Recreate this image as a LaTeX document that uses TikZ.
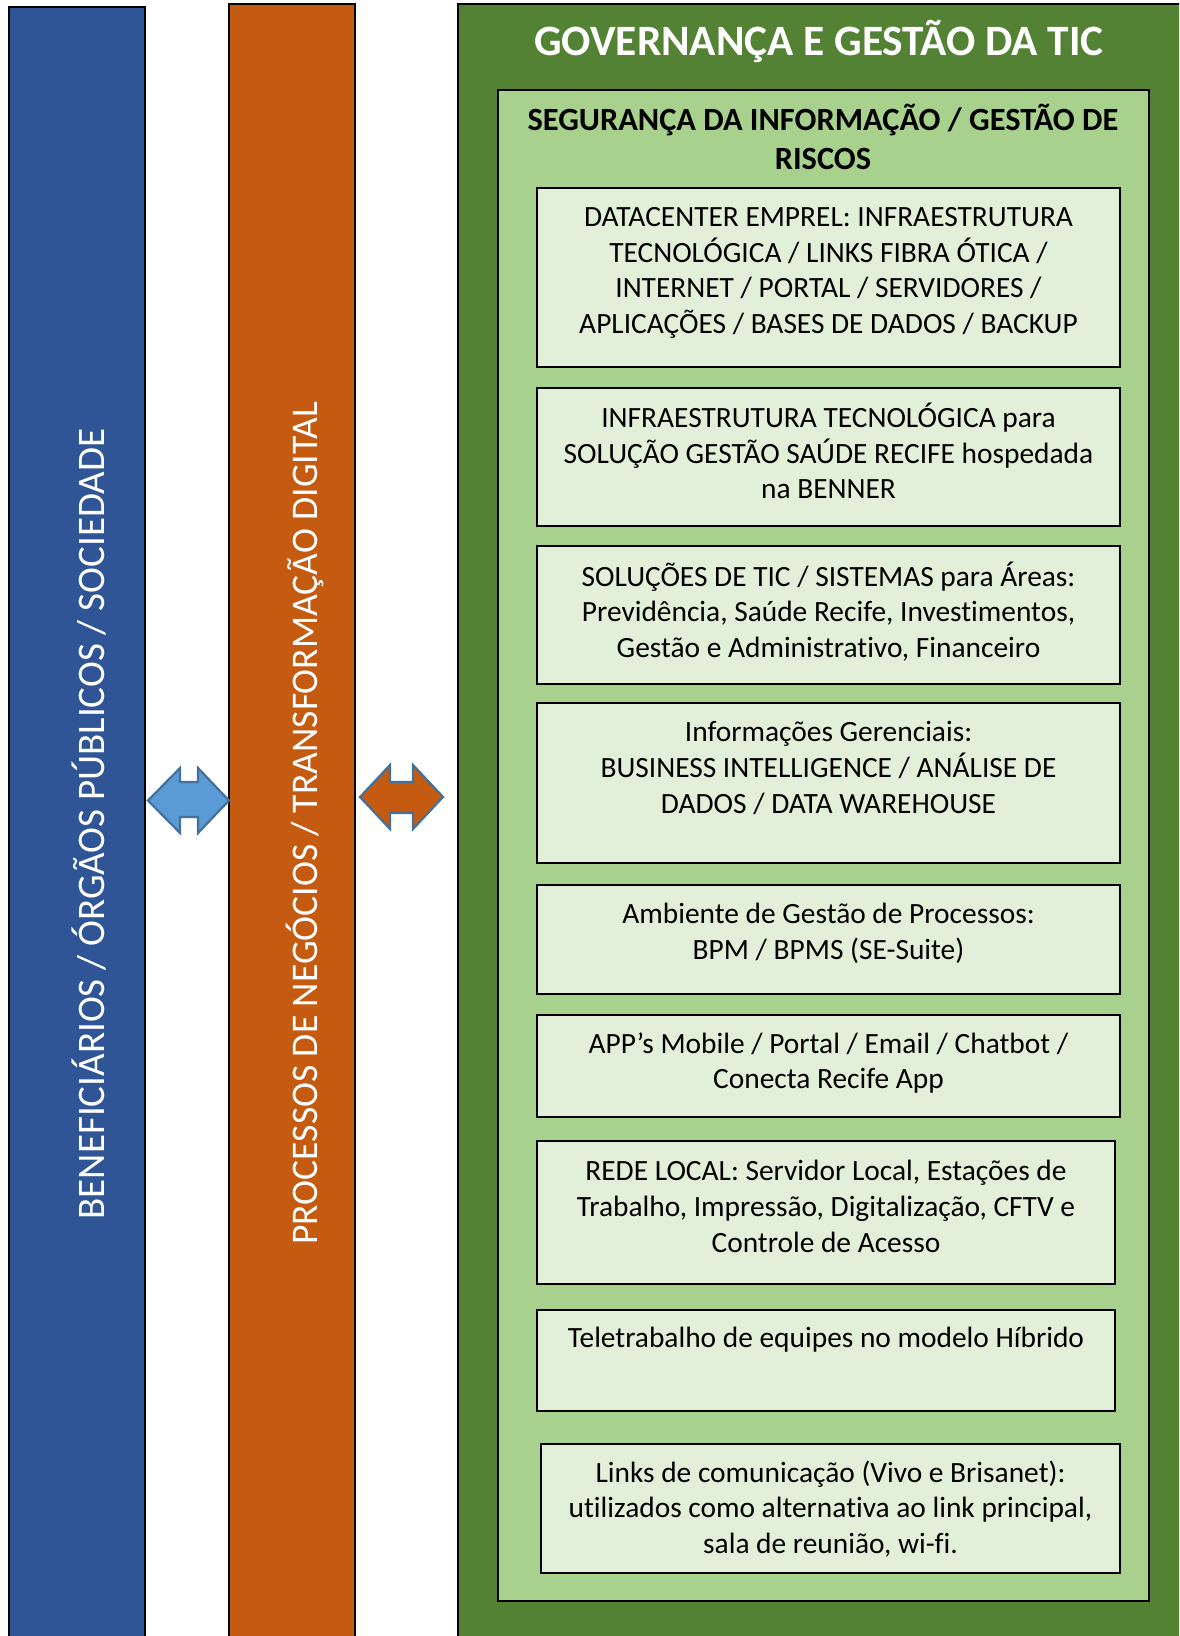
\documentclass[tikz,border=0pt]{standalone}
\usepackage{fontspec}
\setmainfont{Carlito}[Ligatures={NoCommon}]
\definecolor{barblue}{HTML}{2F5597}
\definecolor{barorange}{HTML}{C55A11}
\definecolor{govgreen}{HTML}{548235}
\definecolor{secgreen}{HTML}{A9D18E}
\definecolor{itemgreen}{HTML}{E2F0D9}
\definecolor{arrowblue}{HTML}{5B9BD5}
\definecolor{arrowline}{HTML}{41719C}
\tikzset{
  bar/.style={draw=black, line width=1.5pt},
  itembox/.style={draw=black, line width=1.2pt, fill=itemgreen, inner sep=0pt},
  itemtext/.style={align=center, inner sep=0pt, text=black,
    font=\fontsize{29.4}{35.8}\selectfont},
  sidetext/.style={rotate=90, text=white, inner sep=0pt},
  blockarrow/.style={draw=arrowline, line width=2.2pt, line join=miter},
}
\begin{document}
\begin{tikzpicture}[x=1pt, y=-1pt]
\useasboundingbox (0,0) rectangle (1179,1636);
\clip (0,0) rectangle (1179,1636);
\fill[white] (0,0) rectangle (1179,1636);

% side columns
\draw[bar, fill=barblue] (9,7) rectangle (145,1650);
\draw[bar, fill=barorange] (229,4) rectangle (355,1650);
\node[sidetext, font=\fontsize{39}{47}\selectfont] (benef) at (89,824) {BENEFICIÁRIOS / ÓRGÃOS PÚBLICOS / SOCIEDADE};
\node[sidetext, font=\fontsize{37.6}{45}\selectfont] (proc) at (305,823) {PROCESSOS DE NEGÓCIOS / TRANSFORMAÇÃO DIGITAL};

% governance frame
\draw[bar, fill=govgreen] (458,4) rectangle (1190,1650);
\node[text=white, inner sep=0pt, font=\bfseries\fontsize{43.3}{52}\selectfont] (gov) at (819,42) {GOVERNANÇA E GESTÃO DA TIC};
\draw[line width=1.5pt, fill=secgreen] (498,90) rectangle (1149,1601);
\node[align=center, inner sep=0pt, font=\bfseries\fontsize{32.4}{39}\selectfont] (seg) at (823,137) {SEGURANÇA DA INFORMAÇÃO / GESTÃO DE\\RISCOS};

% double block arrows between the columns
\draw[blockarrow, fill=arrowblue] (148,800.5) -- (180,768) -- (180,782) -- (198,782) -- (198,768) -- (229,800.5)
  -- (198,833) -- (198,817) -- (180,817) -- (180,833) -- cycle;
\draw[blockarrow, fill=barorange] (360,797) -- (390,765) -- (390,782) -- (413,782) -- (413,765) -- (443,797)
  -- (413,829) -- (413,813) -- (390,813) -- (390,829) -- cycle;

% items
\node[itembox, minimum width=583pt, minimum height=179pt] (b1) at (828.5,277.5) {};
\node[itemtext] (t1) at (828.5,273) {DATACENTER EMPREL: INFRAESTRUTURA\\TECNOLÓGICA / LINKS FIBRA ÓTICA /\\INTERNET / PORTAL / SERVIDORES /\\APLICAÇÕES / BASES DE DADOS / BACKUP};

\node[itembox, minimum width=583pt, minimum height=138pt] (b2) at (828.5,457) {};
\node[itemtext] (t2) at (828.5,451) {INFRAESTRUTURA TECNOLÓGICA para\\SOLUÇÃO GESTÃO SAÚDE RECIFE hospedada\\na BENNER};

\node[itembox, minimum width=583pt, minimum height=138pt] (b3) at (828.5,615) {};
\node[itemtext] (t3) at (828.5,611.5) {SOLUÇÕES DE TIC / SISTEMAS para Áreas:\\Previdência, Saúde Recife, Investimentos,\\Gestão e Administrativo, Financeiro};

\node[itembox, minimum width=583pt, minimum height=160pt] (b4) at (828.5,783) {};
\node[itemtext] (t4) at (828.5,768) {Informações Gerenciais:\\BUSINESS INTELLIGENCE / ANÁLISE DE\\DADOS / DATA WAREHOUSE};

\node[itembox, minimum width=583pt, minimum height=109pt] (b5) at (828.5,939.5) {};
\node[itemtext] (t5) at (828.5,933) {Ambiente de Gestão de Processos:\\BPM / BPMS (SE-Suite)};

\node[itembox, minimum width=583pt, minimum height=102pt] (b6) at (828.5,1066) {};
\node[itemtext] (t6) at (828.5,1063) {APP’s Mobile / Portal / Email / Chatbot /\\Conecta Recife App};

\node[itembox, minimum width=578pt, minimum height=143pt] (b7) at (826,1212.5) {};
\node[itemtext] (t7) at (826,1206.5) {REDE LOCAL: Servidor Local, Estações de\\Trabalho, Impressão, Digitalização, CFTV e\\Controle de Acesso};

\node[itembox, minimum width=578pt, minimum height=101pt] (b8) at (826,1360.5) {};
\node[itemtext] (t8) at (826,1340) {Teletrabalho de equipes no modelo Híbrido};

\node[itembox, minimum width=579pt, minimum height=129pt] (b9) at (830.5,1508.5) {};
\node[itemtext] (t9) at (830.5,1509) {Links de comunicação (Vivo e Brisanet):\\utilizados como alternativa ao link principal,\\sala de reunião, wi-fi.};
\end{tikzpicture}
\end{document}
